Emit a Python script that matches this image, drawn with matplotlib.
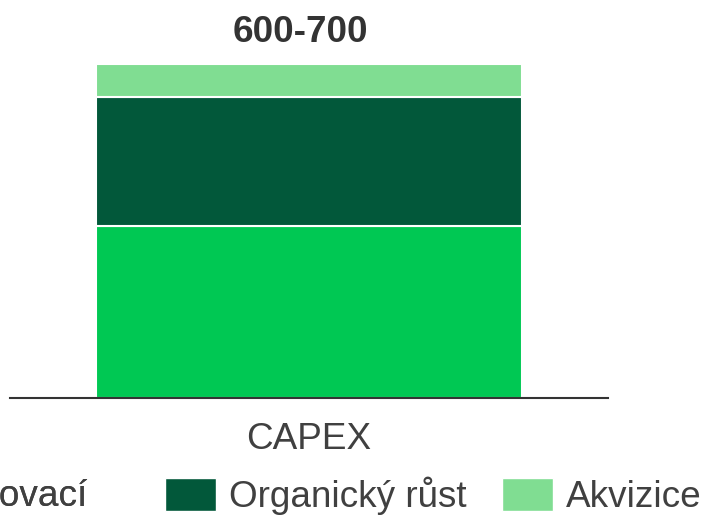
import matplotlib.pyplot as plt
from matplotlib.patches import Patch

# data
category = ["CAPEX"]
series   = ["Udržovací", "Organický růst", "Akvizice"]
values   = [335, 250, 65]
colors   = ["#00C853", "#02583A", "#80DD92"]
total_label = "600-700"

plt.rcParams['font.family'] = ['Liberation Sans', 'DejaVu Sans']
fs = 26.6
txt = "#404040"

fig = plt.figure(figsize=(7.02, 5.17), dpi=100)
ax = fig.add_axes([10/702, 119/517, 598/702, 334/517])

bottom = 0
for name, v, c in zip(series, values, colors):
    ax.bar(category, [v], bottom=bottom, width=0.714, color=c,
           edgecolor="white", linewidth=1.5, label=name)
    bottom += v

ax.set_xlim(-0.5, 0.5)
ax.set_ylim(0, sum(values))
for s in ["top", "right", "left"]:
    ax.spines[s].set_visible(False)
ax.spines["bottom"].set_color("#333333")
ax.spines["bottom"].set_linewidth(1.5)
ax.set_yticks([])
ax.tick_params(axis="x", length=0, pad=17, labelsize=fs, labelcolor=txt)

# soucet nad sloupcem
ax.annotate(total_label, xy=(0, sum(values)), xytext=(-6.5, 23), textcoords="offset points",
            ha="center", va="center", fontsize=fs, fontweight="bold", color="#333333",
            annotation_clip=False)

# legenda (prvni polozka oriznuta levym okrajem jako v predloze)
handles = [Patch(facecolor=c, edgecolor="white") for c in colors]
kw = dict(fontsize=fs, frameon=False, handlelength=1.38, handleheight=0.97,
          handletextpad=0.35, columnspacing=0.95, borderpad=0, borderaxespad=0,
          labelcolor=txt)
leg_y = (517 - 496) / 517
leg1 = fig.legend(handles[:1], series[:1], loc="center right",
                  bbox_to_anchor=(87/702, leg_y), ncol=1, **kw)
fig.add_artist(leg1)
fig.legend(handles[1:], series[1:], loc="center left",
           bbox_to_anchor=(165/702, leg_y), ncol=2, **kw)

plt.savefig("out.png", dpi=100)
